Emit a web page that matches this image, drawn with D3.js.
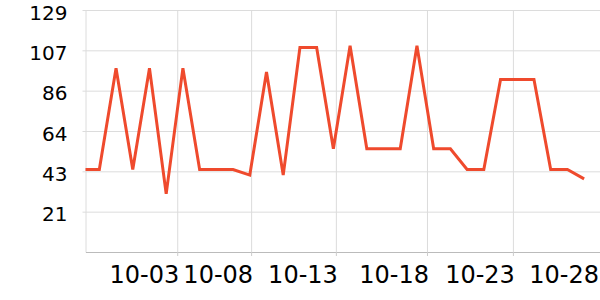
<!DOCTYPE html>
<html>
<head>
<meta charset="utf-8">
<script src="https://cdn.jsdelivr.net/npm/d3@7"></script>
<style>
  html, body { margin: 0; padding: 0; background: #fff; }
  svg { display: block; font-family: "DejaVu Sans", sans-serif; }
</style>
</head>
<body>
<svg id="chart" width="600" height="300"></svg>
<script>
// ---- data ----
const values = [44, 44, 98, 44, 98, 31, 98, 44, 44, 44, 41, 96, 41, 109, 109, 55, 110, 55, 55, 55, 110, 55, 55, 44, 44, 92, 92, 92, 44, 44, 39];
const xTickLabels = ["10-03", "10-08", "10-13", "10-18", "10-23", "10-28"];
const xTickIndex = [5.66, 10.08, 15.15, 20.6, 25.74, 30.98];
const yMax = 129;
const yTicks = [21.5, 43, 64.5, 86, 107.5, 129];

// ---- layout ----
const svg = d3.select("#chart");
const W = 600, H = 300;
const m = { left: 85.5, right: 0, top: 10, bottom: 48 };

const x = d3.scaleLinear().domain([0.173, 30.95]).range([m.left, W - m.right]);
const y = d3.scaleLinear().domain([0, yMax]).range([H - m.bottom, m.top]);

// clip
svg.append("defs").append("clipPath").attr("id", "clip")
  .append("rect").attr("x", m.left).attr("y", 0).attr("width", W - m.left).attr("height", H - m.bottom + 2);

// horizontal gridlines + y axis
const yAxis = d3.axisLeft(y).tickValues(yTicks).tickSize(-(W - m.left)).tickSizeOuter(0)
  .tickFormat(d => Math.floor(d));
const gy = svg.append("g").attr("transform", `translate(${m.left},0)`).call(yAxis);
gy.select(".domain").attr("stroke", "#dcdcdc");
gy.selectAll(".tick line").attr("stroke", "#dcdcdc").attr("x1", -3);
gy.selectAll(".tick text").attr("x", -18).attr("dy", "0.45em")
  .attr("font-size", 20).attr("fill", "#000").attr("font-family", "DejaVu Sans");

// vertical gridlines + x axis
const xAxis = d3.axisBottom(x).tickValues(xTickIndex).tickSize(4).tickSizeOuter(0)
  .tickFormat((d, i) => xTickLabels[i]);
const gx = svg.append("g").attr("transform", `translate(0,${H - m.bottom})`).call(xAxis);
gx.select(".domain").attr("stroke", "#bbb");
gx.selectAll(".tick line").attr("stroke", "#ccc");
gx.selectAll(".tick").append("line").attr("stroke", "#dcdcdc")
  .attr("y1", 0).attr("y2", -(H - m.bottom - m.top));
gx.selectAll(".tick text").attr("text-anchor", "end")
  .attr("x", (d, i) => i === xTickIndex.length - 1 ? -2 : 1.5)
  .attr("y", 14).attr("dy", "0.71em")
  .attr("font-size", 24).attr("fill", "#000").attr("font-family", "DejaVu Sans");

// line
const line = d3.line().x((d, i) => x(i)).y(d => y(d));
svg.append("path").datum(values)
  .attr("clip-path", "url(#clip)")
  .attr("fill", "none").attr("stroke", "#ef4a2d").attr("stroke-width", 3)
  .attr("stroke-linejoin", "miter")
  .attr("d", line);
</script>
</body>
</html>
